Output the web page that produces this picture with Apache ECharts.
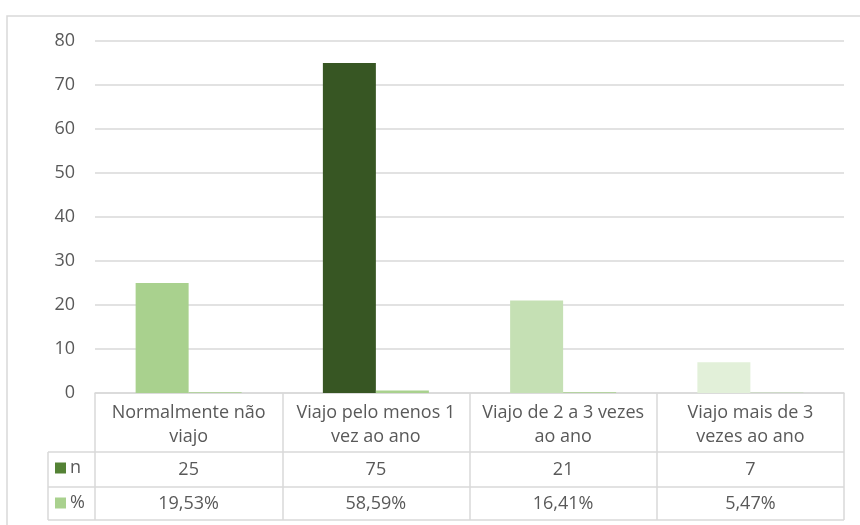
<!DOCTYPE html>
<html>
<head>
<meta charset="utf-8">
<script src="https://cdn.jsdelivr.net/npm/echarts@6/dist/echarts.min.js"></script>
<style>
  html, body { margin: 0; padding: 0; background: #fff; }
  #chart { width: 860px; height: 525px; }
</style>
</head>
<body>
<div id="chart"></div>
<script>
// dados do gráfico
const categorias = [
  "Normalmente não\nviajo",
  "Viajo pelo menos 1\nvez ao ano",
  "Viajo de 2 a 3 vezes\nao ano",
  "Viajo mais de 3\nvezes ao ano",
];
const nValores = [25, 75, 21, 7];
const pctValores = [19.53, 58.59, 16.41, 5.47];
const yTicks = [0, 10, 20, 30, 40, 50, 60, 70, 80];

const nCores = ["#a9d18e", "#375623", "#c5e0b4", "#e2f0d9"];
const fonte = "'Open Sans', sans-serif";
const cinza = "#595959";
const linha = "#d9d9d9";

const fmtPct = (v) => v.toFixed(2).replace(".", ",") + "%";

let myChart = echarts.init(document.getElementById("chart"));

let option = {
  animation: false,
  textStyle: { fontFamily: fonte },
  grid: { left: 95, right: 16, top: 41, bottom: 132 },
  legend: {
    orient: "vertical",
    left: 55,
    top: 458,
    padding: 0,
    itemWidth: 11,
    itemHeight: 11,
    itemGap: 15,
    icon: "rect",
    textStyle: { color: cinza, fontSize: 18, lineHeight: 20, fontFamily: fonte, padding: [0, 0, 0, -1] },
    data: ["n", "%"],
  },
  xAxis: [
    {
      type: "category",
      data: categorias,
      axisLine: { show: true, lineStyle: { color: linha, width: 1.5 } },
      axisTick: { show: true, length: 127, lineStyle: { color: linha, width: 1.5 } },
      axisLabel: { color: cinza, fontSize: 18, lineHeight: 24, margin: 8, interval: 0, verticalAlign: "top" },
    },
    {
      type: "category",
      position: "bottom",
      offset: 61,
      data: nValores.map(String),
      axisLine: { show: false },
      axisTick: { show: false },
      axisLabel: { color: cinza, fontSize: 18, lineHeight: 20, margin: 6, interval: 0 },
    },
    {
      type: "category",
      position: "bottom",
      offset: 95,
      data: pctValores.map(fmtPct),
      axisLine: { show: false },
      axisTick: { show: false },
      axisLabel: { color: cinza, fontSize: 18, lineHeight: 20, margin: 6, interval: 0 },
    },
  ],
  yAxis: {
    type: "value",
    min: yTicks[0],
    max: yTicks[yTicks.length - 1],
    interval: 10,
    axisLine: { show: false },
    axisTick: { show: false },
    axisLabel: { color: cinza, fontSize: 18, margin: 20 },
    splitLine: { lineStyle: { color: linha, width: 1.5 } },
  },
  series: [
    {
      name: "n",
      type: "bar",
      barWidth: 53,
      barGap: "0%",
      itemStyle: { color: "#548235" },
      data: nValores.map((v, i) => ({ value: v, itemStyle: { color: nCores[i] } })),
    },
    {
      name: "%",
      type: "bar",
      barWidth: 53,
      barGap: "0%",
      itemStyle: { color: "#a9d18e" },
      data: pctValores.map((v) => v / 100),
    },
  ],
  graphic: [
    // moldura do gráfico
    { type: "rect", shape: { x: 7, y: 16, width: 900, height: 600 }, style: { fill: null, stroke: linha, lineWidth: 1.5 }, silent: true },
    // linhas da tabela
    { type: "line", shape: { x1: 48, y1: 452, x2: 844, y2: 452 }, style: { stroke: linha, lineWidth: 1.5 } },
    { type: "line", shape: { x1: 48, y1: 487, x2: 844, y2: 487 }, style: { stroke: linha, lineWidth: 1.5 } },
    { type: "line", shape: { x1: 48, y1: 520, x2: 844, y2: 520 }, style: { stroke: linha, lineWidth: 1.5 } },
    { type: "line", shape: { x1: 48, y1: 452, x2: 48, y2: 520 }, style: { stroke: linha, lineWidth: 1.5 } },
  ],
};
myChart.setOption(option);
</script>
</body>
</html>
